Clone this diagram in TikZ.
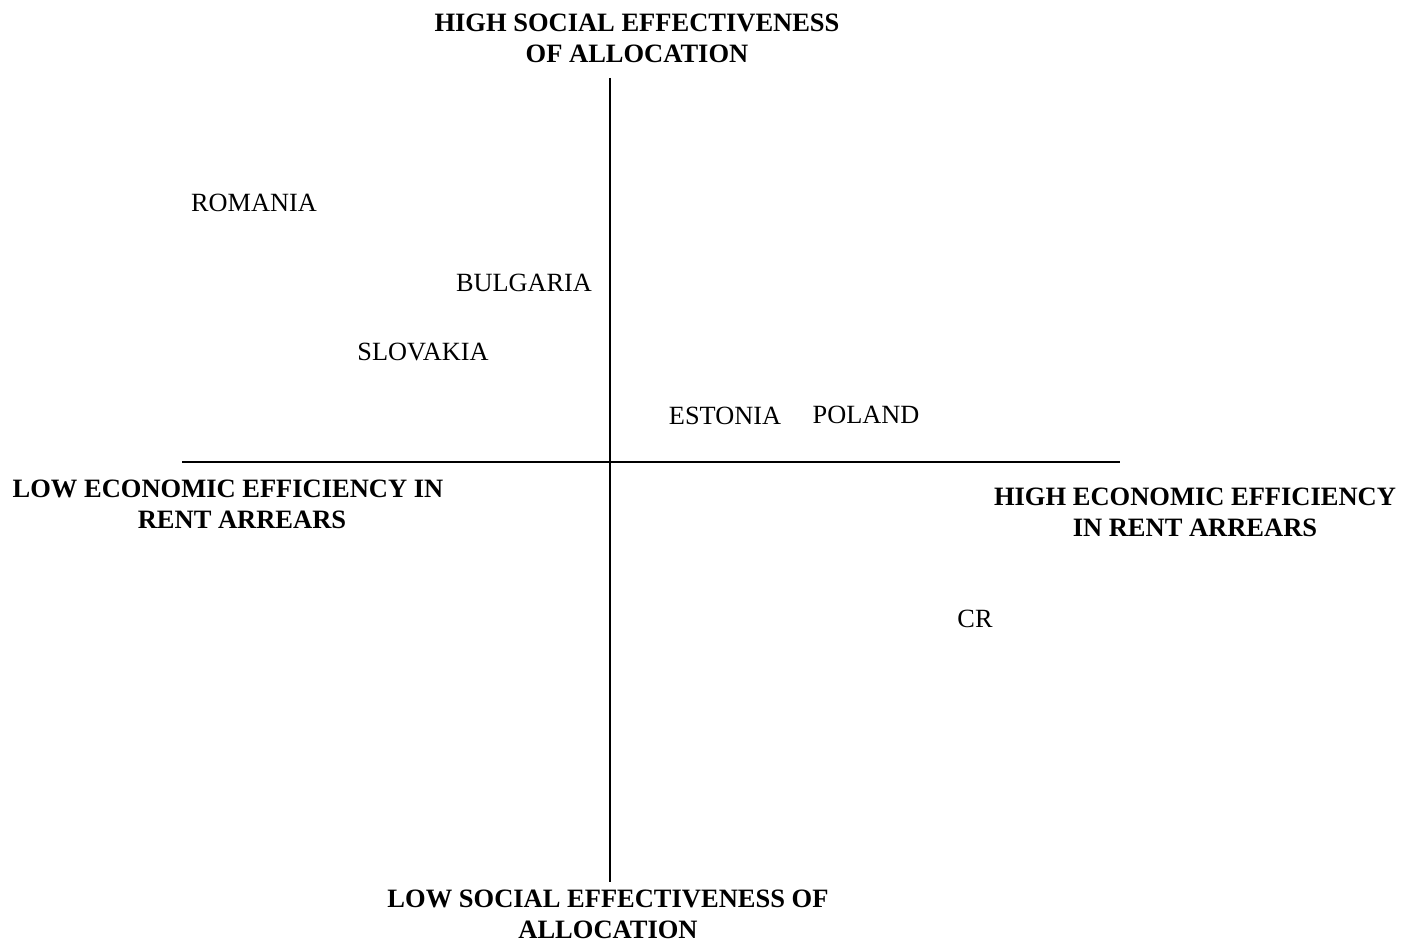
\documentclass[tikz,border=0pt]{standalone}
\usepackage{fontspec}
\setmainfont{Liberation Serif}
\begin{document}
\begin{tikzpicture}[x=1pt,y=-1pt,
  axis/.style={line width=2pt},
  country/.style={font=\fontsize{26.3}{31}\selectfont, inner sep=0pt, anchor=center},
  axlabel/.style={font=\fontsize{26.5}{31}\selectfont\bfseries, inner sep=0pt, align=center, anchor=center}]
\useasboundingbox (0,0) rectangle (1414,942);
\coordinate (vtop) at (610,78);
\coordinate (vbot) at (610,882);
\coordinate (hleft) at (182,462);
\coordinate (hright) at (1120,462);
\draw[axis] (vtop) -- (vbot);
\draw[axis] (hleft) -- (hright);
\node[axlabel] (top) at (637,38) {HIGH SOCIAL EFFECTIVENESS\\OF ALLOCATION};
\node[axlabel] (bottom) at (608,914) {LOW SOCIAL EFFECTIVENESS OF\\ALLOCATION};
\node[axlabel] (left) at (228,504) {LOW ECONOMIC EFFICIENCY IN\\\hspace*{28pt}RENT ARREARS};
\node[axlabel] (right) at (1195,512) {HIGH ECONOMIC EFFICIENCY\\IN RENT ARREARS};
\node[country] (romania) at (254,203) {ROMANIA};
\node[country] (bulgaria) at (524,283) {BULGARIA};
\node[country] (slovakia) at (423,352) {SLOVAKIA};
\node[country] (estonia) at (725,416) {ESTONIA};
\node[country] (poland) at (866,415) {POLAND};
\node[country] (cr) at (975,619) {CR};
\end{tikzpicture}
\end{document}
